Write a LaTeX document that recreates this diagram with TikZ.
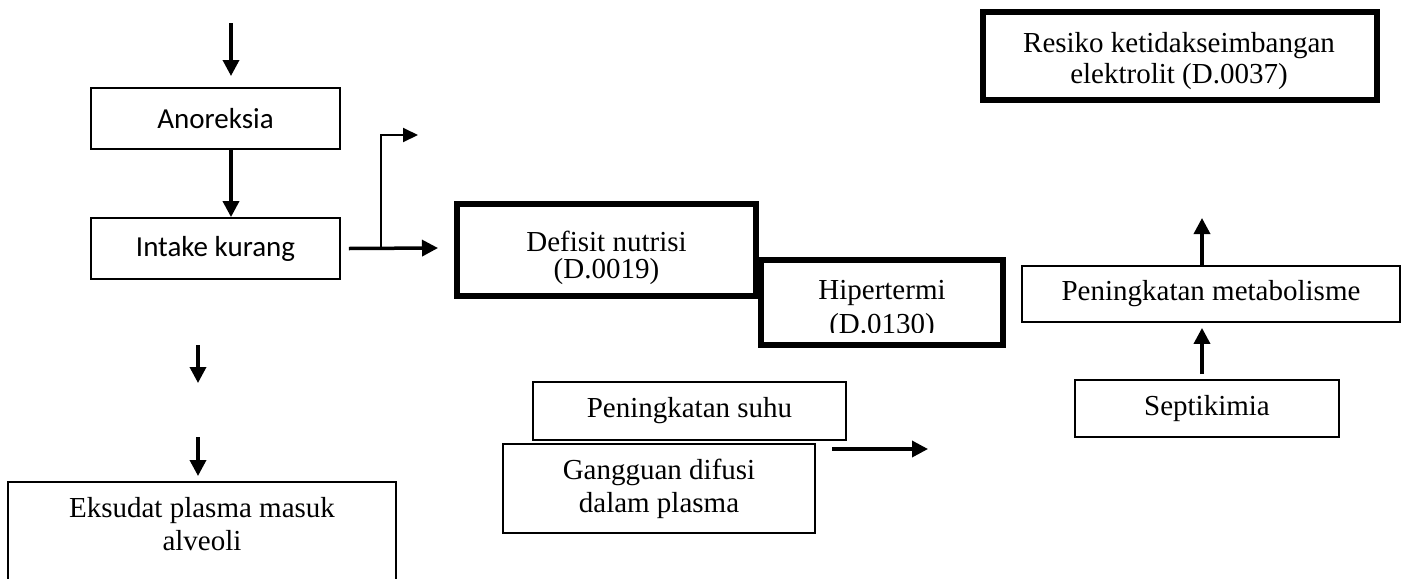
\documentclass[tikz,border=0pt]{standalone}
\usepackage{fontspec}
\setmainfont{Liberation Serif}
\newfontfamily\calibri{Carlito}
\usetikzlibrary{arrows.meta,calc,positioning}
\tikzset{
  box/.style     = {draw, line width=0.9pt, inner sep=0pt, align=center,
                    font=\fontsize{14.5}{16.5}\selectfont},
  bigbox/.style  = {draw, line width=2.6pt, inner sep=0pt},
  sbox/.style    = {box, font=\calibri\fontsize{14.5}{16.5}\selectfont},
  txt/.style     = {inner sep=0pt, align=center, font=\fontsize{14.5}{16.5}\selectfont},
  arr/.style     = {-{Triangle[length=8pt,width=8pt]}, line width=1.75pt},
  thinarr/.style = {-{Triangle[length=7.5pt,width=7pt]}, line width=1pt},
}

\begin{document}
\begin{tikzpicture}[x=0.5pt,y=-0.5pt]
  \clip (0,0) rectangle (1405,579);

  % left column
  \node[sbox, minimum width=124.5pt, minimum height=30.5pt] (anoreksia) at (215.5,118.5) {Anoreksia};
  \node[sbox, minimum width=124.5pt, minimum height=30.5pt] (intake) at (215.5,248.5) {Intake kurang};
  \node[box, minimum width=194pt, anchor=north, inner ysep=7.8pt, text depth=50pt] (eksudat) at (202,481)
    {Eksudat plasma masuk\\alveoli};

  \coordinate (inTop) at (231,23);
  \coordinate (inTopEnd) at (231,76);
  \coordinate (split) at (381,248);
  \coordinate (branchEnd) at (418,135);
  \coordinate (nutriIn) at (438,248);
  \coordinate (midA) at (198,345);
  \coordinate (midAEnd) at (198,383);
  \coordinate (midB) at (198,437);
  \coordinate (midBEnd) at (198,476);

  \draw[arr] (inTop) -- (inTopEnd);
  \draw[arr] (anoreksia.south -| inTop) -- (intake.north -| inTop);
  \draw[arr] ([xshift=4pt]intake.east) -- (nutriIn);
  \draw[thinarr] (split) |- (branchEnd);
  \draw[arr] (midA) -- (midAEnd);
  \draw[arr] (midB) -- (midBEnd);

  % diagnoses
  \node[bigbox, minimum width=149.5pt, minimum height=46pt] (defisit) at (606.5,250) {};
  \node[txt] (defisitText) at (606.5,258) {Defisit nutrisi\\[-3pt](D.0019)};
  \node[bigbox, minimum width=121pt, minimum height=42.5pt] (hiper) at (882,302.5) {};
  \begin{scope}
    \clip (761,262) rectangle (1003,332);
    \node[txt] (hiperText) at (882,310) {Hipertermi\\[0.5pt](D.0130)};
  \end{scope}
  \node[bigbox, minimum width=197pt, minimum height=44pt] (resiko) at (1180,56) {};
  \node[txt] (resikoText) at (1179,61.5) {Resiko ketidakseimbangan\\[-1pt]elektrolit (D.0037)};

  % middle
  \node[box, minimum width=156.5pt, minimum height=29pt] (suhu) at (689.5,411) {Peningkatan suhu};
  \node[box, minimum width=156pt, minimum height=44.5pt] (gangguan) at (659,488.5) {Gangguan difusi\\dalam plasma};
  \coordinate (difusiOut) at (832,449);
  \coordinate (difusiEnd) at (928,449);
  \draw[arr] (difusiOut) -- (difusiEnd);

  % right column
  \node[box, minimum width=189pt, minimum height=28pt] (metab) at (1211,294) {Peningkatan metabolisme};
  \node[box, minimum width=132pt, minimum height=28.5pt] (septi) at (1207,408.5) {Septikimia};
  \coordinate (metabUp) at (1202,218);
  \draw[arr] (metab.north -| metabUp) -- (metabUp);
  \draw[arr, shorten >=2.5pt] ([yshift=2.5pt]septi.north -| metabUp) -- (metab.south -| metabUp);
\end{tikzpicture}
\end{document}
